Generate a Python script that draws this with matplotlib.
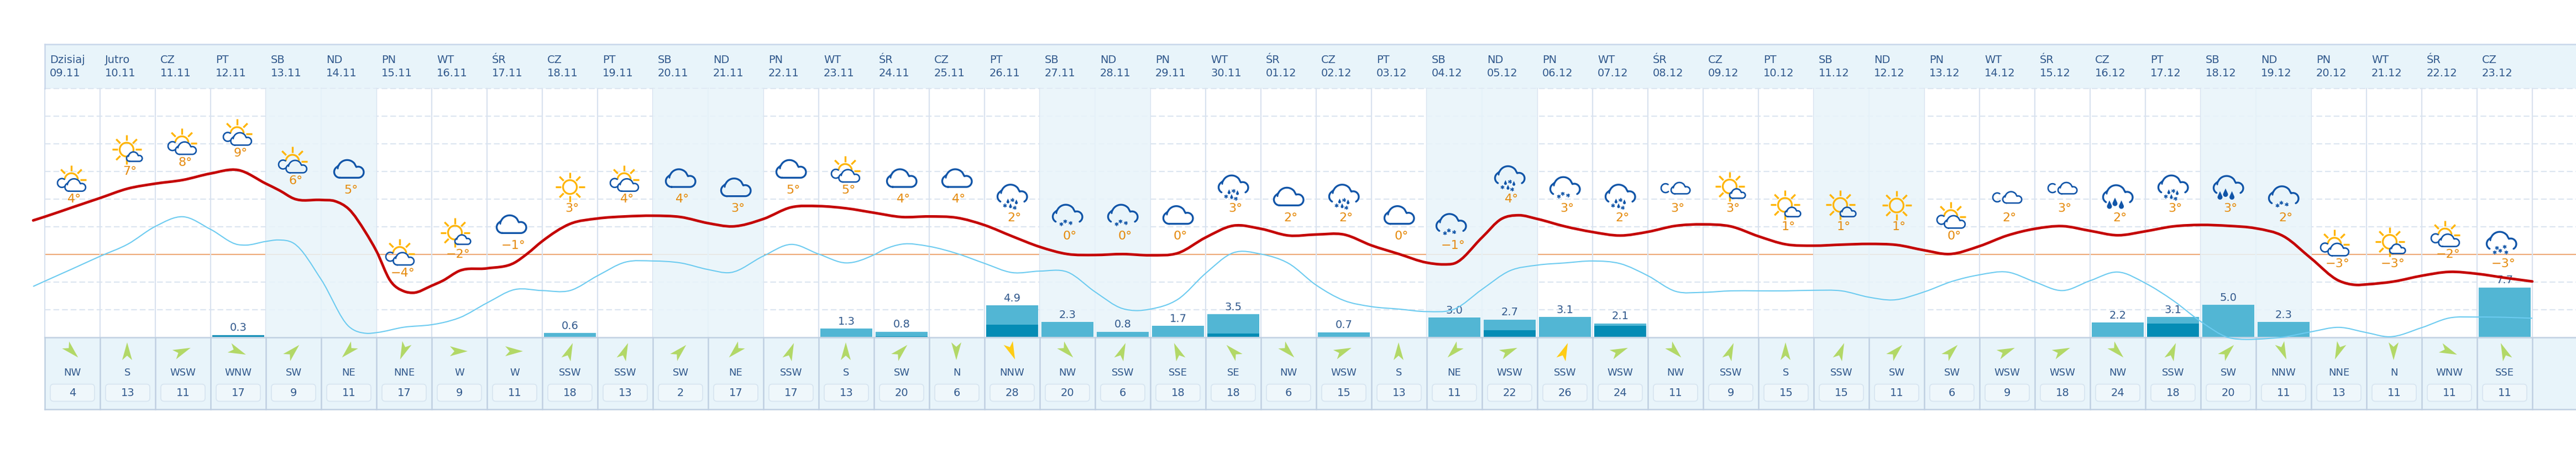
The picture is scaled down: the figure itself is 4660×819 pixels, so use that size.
import numpy as np
import matplotlib
matplotlib.use('Agg')
import matplotlib.pyplot as plt
from matplotlib.path import Path
from matplotlib.patches import PathPatch, Polygon, Rectangle, FancyBboxPatch
from matplotlib.transforms import Affine2D

day_names = ['Dzisiaj', 'Jutro', 'CZ', 'PT', 'SB', 'ND', 'PN', 'WT', 'ŚR', 'CZ', 'PT', 'SB', 'ND', 'PN', 'WT',
             'ŚR', 'CZ', 'PT', 'SB', 'ND', 'PN', 'WT', 'ŚR', 'CZ', 'PT', 'SB', 'ND', 'PN', 'WT', 'ŚR',
             'CZ', 'PT', 'SB', 'ND', 'PN', 'WT', 'ŚR', 'CZ', 'PT', 'SB', 'ND', 'PN', 'WT', 'ŚR', 'CZ']
dates = ['09.11', '10.11', '11.11', '12.11', '13.11', '14.11', '15.11', '16.11', '17.11', '18.11', '19.11',
         '20.11', '21.11', '22.11', '23.11', '24.11', '25.11', '26.11', '27.11', '28.11', '29.11', '30.11',
         '01.12', '02.12', '03.12', '04.12', '05.12', '06.12', '07.12', '08.12', '09.12', '10.12', '11.12',
         '12.12', '13.12', '14.12', '15.12', '16.12', '17.12', '18.12', '19.12', '20.12', '21.12', '22.12', '23.12']
temps = [4, 7, 8, 9, 6, 5, -4, -2, -1, 3, 4, 4, 3, 5, 5, 4, 4, 2, 0, 0, 0, 3, 2, 2, 0, -1, 4, 3, 2, 3, 3,
         1, 1, 1, 0, 2, 3, 2, 3, 3, 2, -3, -3, -2, -3]
icons = ['A', 'B', 'A', 'A', 'A', 'C', 'A', 'B', 'C', 'D', 'A', 'C', 'C', 'C', 'A', 'C', 'C', 'F', 'G', 'G',
         'C', 'F', 'C', 'F', 'C', 'G', 'F', 'G', 'F', 'E', 'B', 'B', 'B', 'D', 'A', 'E', 'E', 'H', 'F', 'H',
         'G', 'A', 'B', 'A', 'K']
wind_dir = ['NW', 'S', 'WSW', 'WNW', 'SW', 'NE', 'NNE', 'W', 'W', 'SSW', 'SSW', 'SW', 'NE', 'SSW', 'S', 'SW',
            'N', 'NNW', 'NW', 'SSW', 'SSE', 'SE', 'NW', 'WSW', 'S', 'NE', 'WSW', 'SSW', 'WSW', 'NW', 'SSW',
            'S', 'SSW', 'SW', 'SW', 'WSW', 'WSW', 'NW', 'SSW', 'SW', 'NNW', 'NNE', 'N', 'WNW', 'SSE']
wind_speed = [4, 13, 11, 17, 9, 11, 17, 9, 11, 18, 13, 2, 17, 17, 13, 20, 6, 28, 20, 6, 18, 18, 6, 15, 13, 11,
              22, 26, 24, 11, 9, 15, 15, 11, 6, 9, 18, 24, 18, 20, 11, 13, 11, 11, 11]
precip = [0, 0, 0, 0.3, 0, 0, 0, 0, 0, 0.6, 0, 0, 0, 0, 1.3, 0.8, 0, 4.9, 2.3, 0.8, 1.7, 3.5, 0, 0.7, 0, 3.0,
          2.7, 3.1, 2.1, 0, 0, 0, 0, 0, 0, 0, 0, 2.2, 3.1, 5.0, 2.3, 0, 0, 0, 7.7]
precip_dark = [0, 0, 0, 0.3, 0, 0, 0, 0, 0, 0, 0, 0, 0, 0, 0, 0.1, 0, 1.9, 0, 0, 0, 0.5, 0, 0, 0, 0,
               1.0, 0, 1.7, 0, 0, 0, 0, 0, 0, 0, 0, 0, 2.1, 0, 0, 0, 0, 0, 0]

red_day = [-0.21, 0, 0.5, 1, 1.5, 2, 2.5, 3, 3.5, 4, 4.25, 4.5, 5, 5.25, 5.5, 5.8, 6, 6.25, 6.5, 6.66, 7, 7.2, 7.5, 8, 8.5,
           8.72, 9, 9.5, 10, 10.5, 11, 11.5, 12, 12.44, 13, 13.5, 14, 14.5, 15, 15.5, 16, 16.5, 17, 17.5, 18,
           18.5, 19, 19.5, 20, 20.5, 21, 21.5, 22, 22.5, 23, 23.5, 24, 24.5, 25, 25.3, 25.5, 26, 26.35, 26.66,
           27, 27.5, 28, 28.5, 29, 29.5, 30, 30.5, 31, 31.5, 32, 32.5, 33, 33.5, 34, 34.45, 35, 35.5, 36, 36.5,
           37, 37.5, 38, 38.5, 39, 39.5, 40, 40.5, 41, 41.5, 41.82, 42, 42.5, 43, 43.5, 44, 44.5, 45]
red_temp = [3.66, 4.06, 5.08, 6.09, 7.11, 7.65, 8.05, 8.75, 9.12, 7.65, 6.9, 6.04, 5.88, 5.75, 4.89, 2.4, 0.33, -2.88, -4.03,
            -4.19, -3.42, -2.88, -1.81, -1.54, -0.92, 0.01, 1.41, 3.28, 3.87, 4.09, 4.17, 4.03, 3.36, 3.01, 3.82,
            5.08, 5.21, 4.97, 4.49, 4.03, 4.09, 3.95, 3.15, 1.94, 0.79, 0.01, -0.09, 0.01, -0.12, 0.12, 1.81, 3.09,
            2.75, 2.02, 2.13, 2.13, 0.95, 0.01, -0.92, -1.11, -1.00, 1.81, 3.82, 4.22, 3.82, 3.01, 2.40, 2.02, 2.42,
            3.07, 3.23, 3.01, 1.94, 1.06, 0.92, 1.03, 1.11, 1.00, 0.42, 0.01, 0.87, 2.02, 2.75, 3.04, 2.53, 2.05,
            2.48, 3.01, 3.17, 3.07, 2.80, 1.94, -0.47, -2.88, -3.34, -3.28, -2.96, -2.34, -1.92, -2.13, -2.56, -2.96]

blue_day = [-0.21, 0, 0.5, 1, 1.5, 2, 2.5, 3, 3.5, 3.63, 4, 4.22, 4.5, 5, 5.5, 5.82, 6, 6.5, 7, 7.2, 7.5, 8, 8.5,
            9, 9.5, 10, 10.5, 11, 11.5, 12, 12.4, 13, 13.5, 14, 14.5, 15, 15.19, 15.5, 16, 16.5, 17, 17.5, 18,
            18.5, 19, 19.5, 19.73, 20, 20.5, 21, 21.5, 22, 22.5, 23, 23.5, 24, 24.5, 25, 25.5, 26, 26.5, 27,
            27.5, 28, 28.5, 29, 29.5, 30, 30.5, 31, 31.5, 32, 32.5, 33, 33.43, 34, 34.5, 35, 35.5, 36, 36.5, 37,
            37.5, 38, 38.5, 39, 39.5, 39.83, 40, 40.5, 41, 41.5, 42, 42.41, 43, 43.5, 44, 44.5, 45]
blue_temp = [-3.50, -2.93, -1.59, -0.23, 1.08, 3.01, 4.06, 2.69, 1.03, 0.98, 1.38, 1.54, 1.19, -2.75, -7.84, -8.59,
             -8.51, -7.92, -7.65, -7.43, -6.90, -5.29, -3.84, -3.95, -3.95, -2.34, -0.87, -0.74, -0.95, -1.67, -2.00,
             -0.20, 1.06, 0.01, -0.95, -0.07, 0.52, 1.08, 0.84, 0.07, -1.00, -2.00, -1.84, -1.94, -4.09, -5.91, -6.12,
             -5.96, -4.89, -2.08, 0.15, 0.01, -1.00, -3.36, -5.02, -5.69, -5.96, -6.23, -5.96, -3.82, -1.81, -1.19,
             -0.95, -0.74, -1.03, -2.34, -4.03, -4.14, -3.98, -3.98, -3.98, -3.92, -3.98, -4.67, -4.97, -4.09, -2.96,
             -2.24, -1.94, -3.01, -3.95, -2.88, -1.94, -3.15, -5.02, -7.30, -9.04, -9.26, -9.23, -8.99, -8.42, -7.94,
             -8.51, -8.96, -7.97, -6.92, -6.82, -6.85, -6.95]

W, H = 4660, 820
TEXT = '#30588c'
BAND = '#e8f4fa'
CLOUD = '#1155a8'
SUN = '#ffb400'
COMPASS = {'N': 0, 'NNE': 22.5, 'NE': 45, 'SE': 135, 'SSE': 157.5, 'S': 180, 'SSW': 202.5, 'SW': 225,
           'WSW': 247.5, 'W': 270, 'WNW': 292.5, 'NW': 315, 'NNW': 337.5}

fig = plt.figure(figsize=(W / 100, H / 100), dpi=100)
# y-down pixel coordinates, the same for all the static parts
to_px = Affine2D().scale(1 / W, -1 / H).translate(0, 1) + fig.transFigure


def full_axes(z):
    a = fig.add_axes([0, 0, 1, 1], zorder=z)
    a.axis('off')
    a.patch.set_visible(False)
    a.set_xlim(-0.81, 45.79)
    return a


pa = full_axes(1)
pa.set_xlim(0, W)
pa.set_ylim(H, 0)
bars = full_axes(2)
bars.set_ylim(-210 / 11.6, 610 / 11.6)
ax = full_axes(3)
ax.set_ylim((460.5 - H) / 16.667, 460.5 / 16.667)


def col_x(i):
    return 81 + 100 * i


# background panels
pa.add_patch(Rectangle((81, 81), W - 81, 80, fc=BAND, ec='none', zorder=1))
pa.add_patch(Rectangle((81, 611), W - 81, 130, fc=BAND, ec='none', zorder=1))

# dashed grid and the zero line
for gy in [160.5, 210.5, 260.5, 310.5, 360.5, 410.5, 510.5, 560.5]:
    pa.plot([81, W], [gy, gy], color='#dbe5f0', lw=1.5, ls=(0, (5, 2.5)), zorder=2, dash_capstyle='butt')
pa.plot([81, W], [460.5, 460.5], color='#eda876', lw=1.5, zorder=2)

for i in range(46):
    pa.plot([col_x(i), col_x(i)], [161, 611], color='#d9e2ef', lw=1.6, zorder=2)

# weekends lie over the grid and pale it
for i, name in enumerate(day_names):
    if name in ('SB', 'ND'):
        pa.add_patch(Rectangle((col_x(i), 161), 100, 450, fc=BAND, ec='none', alpha=0.85, zorder=3))

# frame and panel lines
pa.plot([81, W], [81, 81], color='#c8d6ea', lw=1.8, zorder=4)
pa.plot([81, W], [611, 611], color='#c0d0e2', lw=1.8, zorder=4)
pa.plot([81, W], [741, 741], color='#c0d0e2', lw=1.8, zorder=4)
pa.plot([81, 81], [81, 161], color='#c8d6ea', lw=1.8, zorder=4)
for i in range(46):
    pa.plot([col_x(i), col_x(i)], [611, 741], color='#c0d0e2', lw=1.8, zorder=4)

# header and wind panel
for i in range(45):
    cx = col_x(i) + 50
    pa.text(col_x(i) + 9, 108, day_names[i], fontsize=14, color=TEXT, va='center', ha='left', zorder=5)
    pa.text(col_x(i) + 9, 132, dates[i], fontsize=14, color=TEXT, va='center', ha='left', zorder=5)
    pa.text(cx, 674, wind_dir[i], fontsize=13, color=TEXT, va='center', ha='center', zorder=5)
    pa.add_patch(FancyBboxPatch((cx - 35, 700.5), 70, 21, boxstyle='round,pad=5,rounding_size=6',
                                fc='#eff7fb', ec='#d6e4f0', lw=1.2, zorder=5))
    pa.text(cx, 710.5, str(wind_speed[i]), fontsize=14, color=TEXT, va='center', ha='center', zorder=6)
    a = np.radians(COMPASS[wind_dir[i]] + 180)
    pts = np.array([[0, -16], [-9, 16], [0, 8], [9, 16]], dtype=float)
    rot = np.array([[np.cos(a), -np.sin(a)], [np.sin(a), np.cos(a)]])
    pts = pts @ rot.T + [cx - 1, 636]
    color = '#ffcc14' if wind_speed[i] >= 25 else '#b2d867'
    pa.add_patch(Polygon(pts, closed=True, fc=color, ec='none', zorder=5))

# precipitation
days = np.arange(45) + 0.5
bars.bar(days, precip, width=0.94, color='#52b6d4')
bars.bar(days, precip_dark, width=0.94, color='#058cb5')
for d, v in zip(days, precip):
    if v > 0:
        bars.annotate('%.1f' % v, (d, v), xytext=(0, 10), textcoords='offset points', ha='center', va='center',
                      fontsize=14, color=TEXT)


def smooth_path(x, y):
    # cubic segments through the read points
    x = np.array(x, dtype=float)
    y = np.array(y, dtype=float)
    m = np.gradient(y, x)
    verts = [(x[0], y[0])]
    codes = [Path.MOVETO]
    for k in range(len(x) - 1):
        h = x[k + 1] - x[k]
        verts += [(x[k] + h / 3, y[k] + m[k] * h / 3), (x[k + 1] - h / 3, y[k + 1] - m[k + 1] * h / 3),
                  (x[k + 1], y[k + 1])]
        codes += [Path.CURVE4] * 3
    return Path(verts, codes)


ax.add_patch(PathPatch(smooth_path(blue_day, blue_temp), fc='none', ec='#6ccbf0', lw=1.5, clip_on=False, zorder=2))
ax.add_patch(PathPatch(smooth_path(red_day, red_temp), fc='none', ec='#c40000', lw=3.4, clip_on=False, zorder=3,
                       capstyle='round', joinstyle='round'))


def arc(cx, cy, r, a0, a1, n=30):
    t = np.radians(np.linspace(a0, a1, n))
    return np.column_stack([cx + r * np.cos(t), cy + r * np.sin(t)])


def stroke(pts, color, lw, z=5):
    codes = [Path.MOVETO] + [Path.LINETO] * (len(pts) - 1)
    ax.add_patch(PathPatch(Path(pts, codes), fc='none', ec=color, lw=lw, transform=to_px, clip_on=False, zorder=z,
                           capstyle='round', joinstyle='round'))


def draw_cloud(cx, cy, s, bg, open_bottom=False):
    left = arc(-16, 5.5, 10.5, 120 if open_bottom else 90, 235)
    top = arc(-3, 1, 17, 205, 320)
    right = arc(17, 6, 10, -110, 60 if open_bottom else 90)
    pts = np.vstack([left, top, right]) * s + [cx, cy]
    closed_pts = np.vstack([pts, pts[:1]])
    ax.add_patch(PathPatch(Path(closed_pts), fc=bg, ec='none', transform=to_px, clip_on=False, zorder=5))
    if not open_bottom:
        pts = closed_pts
    stroke(pts, CLOUD, 2.4 if s > 0.8 else 1.9, z=6)
    # small inner curl of the outline
    hook = arc(-3, 1, 17, 185, 205, 8) * s + [cx, cy]
    stroke(hook, CLOUD, 2.0 if s > 0.8 else 1.6, z=6)


def draw_rays(cx, cy, angles):
    for a in angles:
        t = np.radians(a)
        pts = np.array([[cx + 16 * np.cos(t), cy + 16 * np.sin(t)], [cx + 26.5 * np.cos(t), cy + 26.5 * np.sin(t)]])
        ax.add_patch(PathPatch(Path(pts), ec=SUN, lw=2.4, fc='none', transform=to_px, clip_on=False, zorder=4))


def draw_star(cx, cy, r=3.6):
    for a in (90, 30, 150):
        t = np.radians(a)
        pts = np.array([[cx - r * np.cos(t), cy - r * np.sin(t)], [cx + r * np.cos(t), cy + r * np.sin(t)]])
        ax.add_patch(PathPatch(Path(pts), ec=CLOUD, lw=1.2, fc='none', transform=to_px, clip_on=False, zorder=6))


def draw_drop(cx, cy, s=1.0):
    body = arc(0, 2.2, 3.0, -20, 200, 14) * s + [cx, cy]
    pts = np.vstack([[cx, cy - 5 * s], body, [[cx, cy - 5 * s]]])
    ax.add_patch(PathPatch(Path(pts), fc=CLOUD, ec='none', transform=to_px, clip_on=False, zorder=6))


def draw_icon(kind, x, y, bg):
    # x, y is the middle of the temperature label in pixels
    x = x - 4
    if kind == 'A':
        cx, cy = x + 5, y - 25
        sx, sy = cx - 7, cy - 9.3
        stroke(arc(sx, sy, 12, 190, 350), SUN, 2.3, z=4)
        draw_rays(sx, sy, [-90, -135, -45, 0])
        stroke(arc(cx - 24, cy - 3.7, 8, 50, 305), CLOUD, 1.9, z=6)
        draw_cloud(cx, cy, 0.7, bg)
    elif kind == 'B':
        sx, sy = x - 2, y - 39
        stroke(arc(sx, sy, 12.5, 0, 360, 50), SUN, 2.3, z=4)
        draw_rays(sx, sy, [-90, -135, -45, 0, 180, 135, 45, 90])
        draw_cloud(sx + 14, sy + 12.7, 0.53, bg)
    elif kind == 'C':
        draw_cloud(x, y - 37.5, 1.0, bg)
    elif kind == 'D':
        sx, sy = x, y - 38
        stroke(arc(sx, sy, 12.5, 0, 360, 50), SUN, 2.3, z=4)
        draw_rays(sx, sy, [-90, -135, -45, 0, 180, 135, 45, 90])
    elif kind == 'E':
        cx, cy = x + 9, y - 36
        stroke(arc(cx - 27, cy, 8, 50, 305), CLOUD, 1.9, z=6)
        draw_cloud(cx, cy, 0.64, bg)
    else:
        cy = y - {'F': 43, 'G': 40, 'H': 42, 'K': 41}[kind]
        draw_cloud(x, cy, 1.0, bg, open_bottom=True)
        if kind == 'F':
            for dx, dy in [(-13, 22), (0.5, 12), (4.5, 26)]:
                draw_star(x + dx, cy + dy)
            for dx, dy in [(-7.6, 13.4), (-3, 22), (7.6, 15)]:
                draw_drop(x + dx, cy + dy, 0.85)
        elif kind == 'G':
            for dx, dy in [(-11, 19), (-4, 14), (5.6, 17)]:
                draw_star(x + dx, cy + dy)
        elif kind == 'H':
            for dx, dy in [(-15, 19), (-5, 14), (6.6, 19)]:
                draw_drop(x + dx, cy + dy, 1.5)
        else:
            for dx, dy in [(-12, 21), (-8, 13), (-2, 18), (6, 11), (9, 21)]:
                draw_star(x + dx, cy + dy)


# labels sit two degrees over the day's temperature, the icon over the label
for i, t in enumerate(temps):
    shift = 0.04 if t >= 0 else -0.02
    label = ('−%d°' % abs(t)) if t < 0 else ('%d°' % t)
    ax.text(i + 0.5 + shift, t + 2, label, fontsize=16, color='#e58a0b', ha='center', va='center', zorder=7)
    px, py = ax.transData.transform((i + 0.5 + shift, t + 2))
    bg = BAND if day_names[i] in ('SB', 'ND') else 'white'
    draw_icon(icons[i], px, H - py, bg)

fig.savefig('out.png', dpi=100)
